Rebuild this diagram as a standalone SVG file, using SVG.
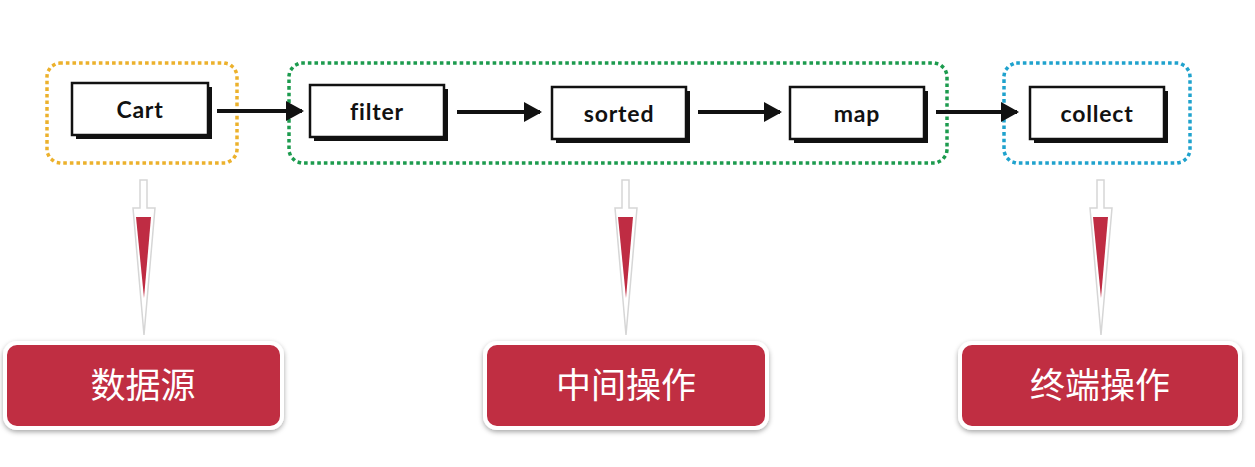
<svg xmlns="http://www.w3.org/2000/svg" width="1255" height="467" viewBox="0 0 1255 467">
<defs>
<style>
.grp{fill:none;stroke-width:3.5;stroke-dasharray:0.1 6.5;stroke-linecap:square}
.shadow{fill:#111;stroke:none}
.box{fill:#fff;stroke:#111;stroke-width:2.5}
.lbl{font-family:Lato,"Liberation Sans",sans-serif;font-weight:bold;font-size:23px;fill:#111;text-anchor:middle;letter-spacing:0.8px}
.conn{stroke:#111;stroke-width:4;fill:none;marker-end:url(#ah)}
.pin-out{fill:#fff;stroke:#d6d6d6;stroke-width:1.5}
.pin-in{fill:#bf2c43}
.btn{fill:#c02d42;stroke:#fff;stroke-width:4}
.btxt{font-family:"Noto Sans CJK SC",sans-serif;font-weight:normal;font-size:35px;fill:#fff;text-anchor:middle}
</style>
<marker id="ah" markerWidth="5" markerHeight="6" refX="4" refY="2.5" orient="auto" markerUnits="strokeWidth">
<path d="M0,0 L4.5,2.5 L0,5 Z" fill="#111"/>
</marker>
<filter id="sh" x="-10%" y="-20%" width="120%" height="150%">
<feDropShadow dx="0" dy="2" stdDeviation="2.5" flood-color="#000" flood-opacity="0.35"/>
</filter>
</defs>
<g id="groups">
<rect class="grp" x="47" y="63" width="190" height="100" rx="14" stroke="#ecb12c"/>
<rect class="grp" x="289" y="63" width="658" height="100" rx="14" stroke="#1c9b4e"/>
<rect class="grp" x="1004" y="63" width="186" height="100" rx="14" stroke="#1fa2cd"/>
</g>
<g id="connectors">
<line class="conn" x1="217" y1="111" x2="302" y2="111"/>
<line class="conn" x1="457" y1="112" x2="540" y2="112"/>
<line class="conn" x1="698" y1="112" x2="780" y2="112"/>
<line class="conn" x1="936" y1="112" x2="1017" y2="112"/>
</g>
<g id="cart">
<rect class="shadow" x="76" y="87" width="136" height="52"/>
<rect class="box" x="72" y="83" width="136" height="52"/>
<text class="lbl" x="140" y="118">Cart</text>
</g>
<g id="filter">
<rect class="shadow" x="314" y="89" width="134" height="52"/>
<rect class="box" x="310" y="85" width="134" height="52"/>
<text class="lbl" x="377" y="120">filter</text>
</g>
<g id="sorted">
<rect class="shadow" x="556" y="91" width="134" height="52"/>
<rect class="box" x="552" y="87" width="134" height="52"/>
<text class="lbl" x="619" y="122">sorted</text>
</g>
<g id="map">
<rect class="shadow" x="794" y="91" width="134" height="52"/>
<rect class="box" x="790" y="87" width="134" height="52"/>
<text class="lbl" x="857" y="122">map</text>
</g>
<g id="collect">
<rect class="shadow" x="1034" y="91" width="134" height="52"/>
<rect class="box" x="1030" y="87" width="134" height="52"/>
<text class="lbl" x="1097" y="122">collect</text>
</g>
<g id="pin-source">
<path class="pin-out" d="M140,180 L147,180 L147,208 L155,208 L144,335 L133,208 L140,208 Z"/>
<path class="pin-in" d="M136,217 L151,217 L144,298 Z"/>
</g>
<g id="pin-mid">
<path class="pin-out" d="M622,180 L629,180 L629,208 L637,208 L626,335 L615,208 L622,208 Z"/>
<path class="pin-in" d="M618,217 L633,217 L626,298 Z"/>
</g>
<g id="pin-term">
<path class="pin-out" d="M1097,180 L1104,180 L1104,208 L1112,208 L1101,335 L1090,208 L1097,208 Z"/>
<path class="pin-in" d="M1093,217 L1108,217 L1101,298 Z"/>
</g>
<g id="btn-source">
<rect class="btn" x="5" y="343" width="277" height="85" rx="12" filter="url(#sh)"/>
<text class="btxt" x="143" y="398">数据源</text>
</g>
<g id="btn-mid">
<rect class="btn" x="485" y="343" width="282" height="85" rx="12" filter="url(#sh)"/>
<text class="btxt" x="626" y="398">中间操作</text>
</g>
<g id="btn-term">
<rect class="btn" x="960" y="343" width="280" height="85" rx="12" filter="url(#sh)"/>
<text class="btxt" x="1100" y="398">终端操作</text>
</g>
</svg>
